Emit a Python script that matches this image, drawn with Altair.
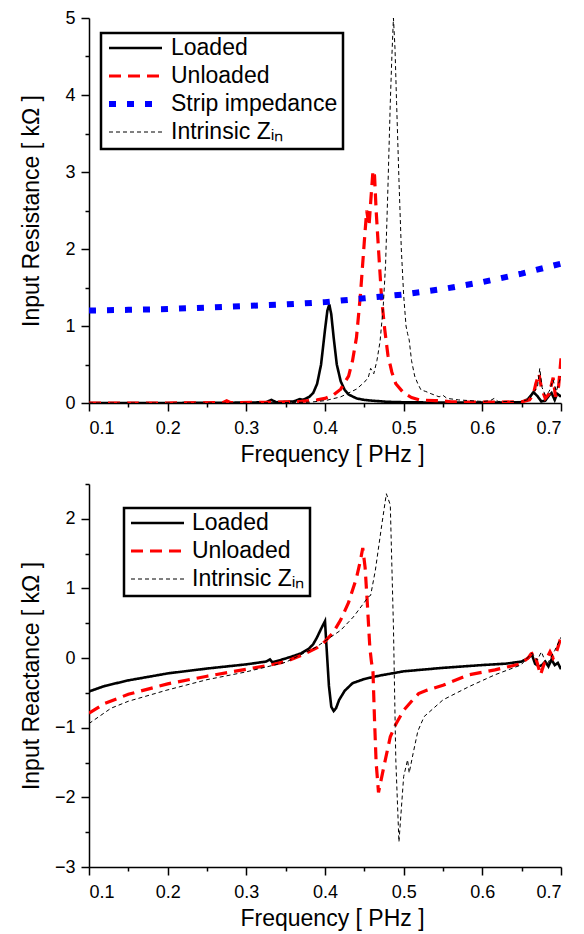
import altair as alt
import pandas as pd

# ---------------- data ----------------
SERIES_TOP = ["Loaded", "Unloaded", "Strip impedance", "Intrinsic Zᵢₙ"]
SERIES_BOT = ["Loaded", "Unloaded", "Intrinsic Zᵢₙ"]

# Input resistance [kOhm]
r_loaded_f = [0.1, 0.2, 0.3, 0.325, 0.332, 0.338, 0.36, 0.368, 0.372, 0.38, 0.385, 0.39, 0.395,
              0.4, 0.403, 0.4055, 0.408, 0.411, 0.415, 0.42, 0.425, 0.43, 0.44, 0.45, 0.46, 0.48,
              0.5, 0.55, 0.6, 0.65, 0.658, 0.665, 0.67, 0.675, 0.68, 0.685, 0.688, 0.692, 0.695, 0.698, 0.7]
r_loaded_v = [0.0, 0.0, 0.005, 0.01, 0.04, 0.01, 0.02, 0.05, 0.04, 0.08, 0.13, 0.25, 0.5,
              0.95, 1.2, 1.28, 1.15, 0.85, 0.5, 0.28, 0.17, 0.11, 0.06, 0.04, 0.03, 0.015,
              0.01, 0.005, 0.005, 0.01, 0.05, 0.14, 0.09, 0.02, 0.03, 0.1, 0.13, 0.04, 0.12, 0.1, 0.08]

r_unloaded_f = [0.1, 0.2, 0.27, 0.275, 0.28, 0.33, 0.37, 0.39, 0.4, 0.41, 0.42, 0.43, 0.435, 0.44,
                0.445, 0.45, 0.453, 0.456, 0.458, 0.461, 0.463, 0.465, 0.468, 0.472, 0.476, 0.48,
                0.485, 0.49, 0.5, 0.51, 0.52, 0.54, 0.55, 0.56, 0.6, 0.65, 0.66, 0.665, 0.668,
                0.672, 0.675, 0.68, 0.685, 0.69, 0.693, 0.697, 0.7]
r_unloaded_v = [0.0, 0.0, 0.005, 0.03, 0.005, 0.01, 0.02, 0.04, 0.06, 0.1, 0.18, 0.35, 0.55, 0.85,
                1.4, 2.1, 2.5, 2.3, 2.6, 3.02, 2.95, 2.5, 2.0, 1.35, 0.95, 0.62,
                0.4, 0.25, 0.13, 0.07, 0.04, 0.03, 0.03, 0.015, 0.01, 0.015, 0.04, 0.12, 0.25,
                0.38, 0.2, 0.06, 0.12, 0.33, 0.08, 0.22, 0.58]

r_strip_f = [0.1, 0.15, 0.2, 0.25, 0.3, 0.35, 0.4, 0.45, 0.5, 0.55, 0.6, 0.65, 0.7]
r_strip_v = [1.2, 1.21, 1.22, 1.24, 1.26, 1.28, 1.31, 1.36, 1.41, 1.48, 1.57, 1.68, 1.81]

r_intr_f = [0.1, 0.3, 0.38, 0.4, 0.42, 0.44, 0.45, 0.455, 0.458, 0.462, 0.466, 0.47, 0.474, 0.477,
            0.48, 0.483, 0.485, 0.487, 0.489, 0.491, 0.494, 0.497, 0.5, 0.503, 0.505, 0.507, 0.51,
            0.514, 0.518, 0.522, 0.528, 0.535, 0.545, 0.55, 0.555, 0.57, 0.6, 0.61, 0.615, 0.62,
            0.65, 0.66, 0.666, 0.67, 0.673, 0.676, 0.68, 0.685, 0.69, 0.694, 0.697, 0.7]
r_intr_v = [0.0, 0.0, 0.01, 0.03, 0.08, 0.18, 0.27, 0.33, 0.45, 0.38, 0.55, 0.8, 1.25, 1.8,
            2.8, 3.9, 4.5, 5.0, 4.6, 3.9, 2.9, 2.0, 1.4, 1.0, 0.9, 0.82, 0.55,
            0.35, 0.25, 0.17, 0.15, 0.12, 0.08, 0.1, 0.06, 0.04, 0.02, 0.03, 0.06, 0.02,
            0.02, 0.05, 0.15, 0.2, 0.45, 0.2, 0.1, 0.15, 0.3, 0.15, 0.25, 0.35]

# Input reactance [kOhm]
x_loaded_f = [0.1, 0.12, 0.15, 0.2, 0.25, 0.3, 0.325, 0.33, 0.333, 0.34, 0.36, 0.37, 0.38, 0.385,
              0.39, 0.395, 0.4, 0.402, 0.405, 0.408, 0.411, 0.414, 0.418, 0.425, 0.435, 0.45, 0.47,
              0.5, 0.55, 0.6, 0.63, 0.65, 0.658, 0.663, 0.667, 0.672, 0.676, 0.68, 0.684, 0.688,
              0.692, 0.696, 0.7]
x_loaded_v = [-0.48, -0.4, -0.32, -0.22, -0.15, -0.09, -0.05, -0.02, -0.06, -0.04, 0.03, 0.07, 0.14, 0.2,
              0.3, 0.42, 0.53, 0.15, -0.4, -0.7, -0.76, -0.72, -0.6, -0.47, -0.36, -0.3, -0.25,
              -0.19, -0.14, -0.1, -0.08, -0.05, 0.0, 0.05, -0.08, -0.12, -0.1, -0.05, -0.12, -0.02,
              -0.1, -0.07, -0.16]

x_unloaded_f = [0.1, 0.12, 0.15, 0.2, 0.25, 0.3, 0.33, 0.35, 0.37, 0.39, 0.4, 0.41, 0.42, 0.43, 0.44,
                0.445, 0.448, 0.451, 0.454, 0.457, 0.459, 0.461, 0.463, 0.465, 0.468, 0.475, 0.483,
                0.49, 0.5, 0.51, 0.519, 0.53, 0.55, 0.583, 0.616, 0.649, 0.658, 0.662, 0.666, 0.67,
                0.674, 0.678, 0.682, 0.686, 0.69, 0.694, 0.7]
x_unloaded_v = [-0.79, -0.65, -0.52, -0.37, -0.26, -0.16, -0.1, -0.05, 0.04, 0.15, 0.24, 0.36, 0.55, 0.8, 1.15,
                1.4, 1.58, 1.3, 0.75, 0.15, -0.05, -0.2, -0.9, -1.5, -1.93, -1.55, -1.13,
                -0.95, -0.75, -0.62, -0.51, -0.46, -0.39, -0.24, -0.17, -0.08, 0.0, 0.06, 0.08, -0.08,
                -0.24, -0.1, 0.0, 0.09, 0.0, 0.08, 0.3]

x_intr_f = [0.1, 0.128, 0.15, 0.199, 0.25, 0.299, 0.35, 0.389, 0.42, 0.436, 0.45, 0.455, 0.458, 0.464,
            0.472, 0.478, 0.483, 0.487, 0.49, 0.494, 0.5, 0.505, 0.507, 0.512, 0.518, 0.526, 0.55,
            0.583, 0.616, 0.649, 0.663, 0.67, 0.675, 0.682, 0.692, 0.7]
x_intr_v = [-0.94, -0.72, -0.62, -0.46, -0.31, -0.2, -0.06, 0.16, 0.4, 0.59, 0.8, 0.88, 0.9, 1.26,
            1.9, 2.36, 2.2, 0.45, -1.46, -2.64, -1.7, -1.46, -1.65, -1.37, -1.05, -0.84, -0.6,
            -0.41, -0.24, -0.1, 0.07, -0.03, 0.09, -0.1, 0.11, 0.3]

X_MAJOR = [0.1, 0.2, 0.3, 0.4, 0.5, 0.6, 0.7]
X_MINOR = [0.15, 0.25, 0.35, 0.45, 0.55, 0.65]
Y_TOP_MAJOR = [0, 1, 2, 3, 4, 5]
Y_TOP_MINOR = [0.5, 1.5, 2.5, 3.5, 4.5]
Y_BOT_MAJOR = [-3, -2, -1, 0, 1, 2]
Y_BOT_MINOR = [-2.5, -1.5, -0.5, 0.5, 1.5, 2.5]


def frame(pairs):
    rows = []
    for name, fs, vs in pairs:
        for i, (f, v) in enumerate(zip(fs, vs)):
            rows.append({"s": name, "f": f, "v": v, "i": i})
    return pd.DataFrame(rows)


df_top = frame([
    ("Loaded", r_loaded_f, r_loaded_v),
    ("Unloaded", r_unloaded_f, r_unloaded_v),
    ("Strip impedance", r_strip_f, r_strip_v),
    ("Intrinsic Zᵢₙ", r_intr_f, r_intr_v),
])
df_bot = frame([
    ("Loaded", x_loaded_f, x_loaded_v),
    ("Unloaded", x_unloaded_f, x_unloaded_v),
    ("Intrinsic Zᵢₙ", x_intr_f, x_intr_v),
])

FONT = "Liberation Sans"
STYLE = {
    "Loaded": ("#000000", [1, 0], 2.6),
    "Unloaded": ("#ff0000", [12, 7], 3.2),
    "Strip impedance": ("#0000ff", [7, 11], 6),
    "Intrinsic Zᵢₙ": ("#000000", [4, 3], 1),
}


def panel(df, names, ytitle, ydom, ymajor, yminor, h, lx, ly):
    xs = alt.Scale(domain=[0.1, 0.7], nice=False, zero=False)
    ys = alt.Scale(domain=ydom, nice=False, zero=False)
    leg = alt.Legend(
        title=None, orient="none", legendX=lx, legendY=ly,
        symbolType="stroke", symbolSize=2809, clipHeight=20,
        labelFontSize=23, labelFont=FONT, labelColor="black", labelOffset=6, labelLimit=400,
        padding=5, rowPadding=5, strokeColor="black", fillColor="white",
    )
    lines = alt.Chart(df).mark_line(clip=True).encode(
        x=alt.X("f:Q", scale=xs, axis=alt.Axis(values=X_MAJOR, format=".1f",
                                                title="Frequency [ PHz ]", tickSize=8,
                                                labelPadding=8, titlePadding=6, titleX=243)),
        y=alt.Y("v:Q", scale=ys, axis=alt.Axis(values=ymajor, format="d", title=ytitle,
                                                tickSize=8, labelPadding=6, titleX=-46)),
        color=alt.Color("s:N", scale=alt.Scale(domain=names, range=[STYLE[n][0] for n in names]), legend=leg),
        strokeDash=alt.StrokeDash("s:N", scale=alt.Scale(domain=names, range=[STYLE[n][1] for n in names]), legend=leg),
        strokeWidth=alt.StrokeWidth("s:N", scale=alt.Scale(type="ordinal", domain=names, range=[STYLE[n][2] for n in names]), legend=leg),
        order="i:Q",
    )
    minor = alt.Chart(df).mark_line(strokeOpacity=0).encode(
        x=alt.X("f:Q", scale=xs, axis=alt.Axis(values=X_MINOR, labels=False, domain=False,
                                                tickSize=4, title=None, orient="bottom")),
        y=alt.Y("v:Q", scale=ys, axis=alt.Axis(values=yminor, labels=False, domain=False,
                                                tickSize=4, title=None, orient="left")),
        detail="s:N",
    )
    return alt.layer(lines, minor).resolve_axis(x="independent", y="independent").properties(width=472, height=h)


top = panel(df_top, SERIES_TOP, "Input Resistance [ kΩ ]", [0, 5], Y_TOP_MAJOR, Y_TOP_MINOR, 385, 12, 15)
bot = panel(df_bot, SERIES_BOT, "Input Reactance [ kΩ ]", [-3, 2.5], Y_BOT_MAJOR, Y_BOT_MINOR, 383, 35, 24)

chart = alt.vconcat(top, bot, spacing=17).resolve_scale(
    x="independent", y="independent", color="independent",
    strokeDash="independent", strokeWidth="independent",
).resolve_legend(
    color="independent", strokeDash="independent", strokeWidth="independent",
).configure(
    padding={"left": 12, "top": 1, "right": 5, "bottom": 5},
    background="white",
).configure_view(stroke=None).configure_legend(strokeWidth=2.5).configure_axis(
    grid=False, domainColor="black", domainWidth=1.5, tickColor="black", tickWidth=1.5,
    labelFont=FONT, labelFontSize=18, labelColor="black",
    titleFont=FONT, titleFontSize=23, titleFontWeight="normal", titleColor="black",
)

chart.save("out.html", embed_options={"renderer": "svg", "actions": False})
